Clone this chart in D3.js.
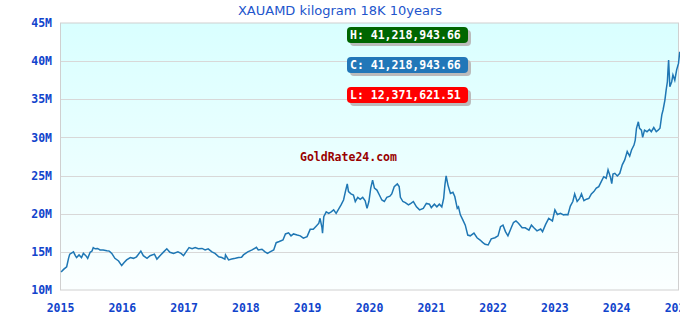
<!DOCTYPE html>
<html>
<head>
<meta charset="utf-8">
<script src="https://cdn.jsdelivr.net/npm/d3@7/dist/d3.min.js"></script>
<style>
	body { margin: 0; background: #fff; }
	svg { display: block; }
</style>
</head>
<body>
<div id="chart"></div>
<script>
// chart texts
const title = "XAUAMD kilogram 18K 10years";
const watermark = "GoldRate24.com";
const yTicks = [10, 15, 20, 25, 30, 35, 40, 45];           // millions AMD
const yTickLabels = ["10M", "15M", "20M", "25M", "30M", "35M", "40M", "45M"];
const xTicks = [2015, 2016, 2017, 2018, 2019, 2020, 2021, 2022, 2023, 2024, 2025];

// summary boxes
const statLabels = ["H", "C", "L"];
const statValues = [41218943.66, 41218943.66, 12371621.51];
const statColors = ["#006600", "#2277b8", "#ff0000"];

// price series (decimal year, millions AMD)
const years = [
	2015.01, 2015.05, 2015.10, 2015.13, 2015.15, 2015.21, 2015.24, 2015.26, 2015.30, 2015.34,
	2015.37, 2015.41, 2015.44, 2015.48, 2015.51, 2015.53, 2015.56, 2015.60, 2015.64, 2015.69,
	2015.75, 2015.79, 2015.83, 2015.88, 2015.94, 2015.99, 2016.03, 2016.07, 2016.13, 2016.18,
	2016.23, 2016.30, 2016.34, 2016.40, 2016.45, 2016.52, 2016.56, 2016.61, 2016.67, 2016.72,
	2016.77, 2016.83, 2016.90, 2016.95, 2016.99, 2017.04, 2017.08, 2017.13, 2017.18, 2017.23,
	2017.29, 2017.34, 2017.39, 2017.45, 2017.50, 2017.56, 2017.61, 2017.66, 2017.67, 2017.72,
	2017.77, 2017.83, 2017.88, 2017.93, 2017.96, 2018.03, 2018.10, 2018.17, 2018.20, 2018.26,
	2018.31, 2018.35, 2018.39, 2018.45, 2018.49, 2018.54, 2018.60, 2018.64, 2018.69, 2018.73,
	2018.77, 2018.83, 2018.88, 2018.93, 2018.99, 2019.04, 2019.09, 2019.14, 2019.18, 2019.20,
	2019.23, 2019.24, 2019.26, 2019.30, 2019.34, 2019.38, 2019.42, 2019.46, 2019.50, 2019.54,
	2019.58, 2019.61, 2019.64, 2019.66, 2019.70, 2019.74, 2019.77, 2019.81, 2019.85, 2019.89,
	2019.93, 2019.96, 2019.99, 2020.02, 2020.05, 2020.08, 2020.12, 2020.16, 2020.20, 2020.24,
	2020.28, 2020.33, 2020.36, 2020.40, 2020.45, 2020.48, 2020.50, 2020.54, 2020.58, 2020.63,
	2020.67, 2020.71, 2020.76, 2020.81, 2020.87, 2020.92, 2020.97, 2021.00, 2021.05, 2021.09,
	2021.13, 2021.17, 2021.20, 2021.22, 2021.24, 2021.27, 2021.31, 2021.35, 2021.38, 2021.42,
	2021.44, 2021.47, 2021.51, 2021.55, 2021.59, 2021.63, 2021.69, 2021.74, 2021.79, 2021.83,
	2021.87, 2021.92, 2021.97, 2022.03, 2022.08, 2022.12, 2022.16, 2022.20, 2022.24, 2022.30,
	2022.33, 2022.37, 2022.41, 2022.47, 2022.52, 2022.58, 2022.62, 2022.66, 2022.71, 2022.77,
	2022.80, 2022.85, 2022.90, 2022.96, 2023.00, 2023.04, 2023.09, 2023.14, 2023.18, 2023.21,
	2023.25, 2023.29, 2023.32, 2023.36, 2023.40, 2023.43, 2023.47, 2023.51, 2023.55, 2023.59,
	2023.63, 2023.67, 2023.71, 2023.75, 2023.79, 2023.83, 2023.86, 2023.90, 2023.92, 2023.94,
	2023.97, 2024.01, 2024.05, 2024.09, 2024.13, 2024.17, 2024.21, 2024.24, 2024.28, 2024.30,
	2024.32, 2024.35, 2024.37, 2024.40, 2024.42, 2024.45, 2024.49, 2024.53, 2024.56, 2024.60,
	2024.64, 2024.67, 2024.70, 2024.73, 2024.75, 2024.78, 2024.80, 2024.82, 2024.83, 2024.84,
	2024.86, 2024.89, 2024.91, 2024.94, 2024.97, 2025.00, 2025.02
];
const values = [
	12.37, 12.70, 13.05, 14.15, 14.70, 15.00, 14.50, 14.25, 14.60, 14.25,
	14.80, 14.50, 14.15, 14.95, 15.10, 15.55, 15.40, 15.45, 15.25, 15.25,
	15.15, 15.10, 14.80, 14.15, 13.80, 13.20, 13.60, 13.95, 14.25, 14.15,
	14.35, 15.10, 14.50, 14.15, 14.50, 14.70, 14.05, 14.50, 15.00, 15.40,
	14.95, 14.80, 15.00, 14.80, 14.50, 15.10, 15.55, 15.40, 15.55, 15.40,
	15.45, 15.25, 15.40, 15.00, 14.80, 14.35, 14.25, 14.05, 14.60, 13.95,
	14.05, 14.15, 14.25, 14.30, 14.60, 15.00, 15.25, 15.60, 15.25, 15.35,
	15.00, 14.80, 15.00, 15.25, 16.20, 16.35, 16.55, 17.35, 17.50, 17.10,
	17.35, 17.20, 17.10, 16.80, 17.00, 17.95, 17.95, 18.40, 18.75, 19.40,
	18.20, 17.45, 19.60, 20.25, 20.05, 20.25, 20.50, 20.05, 20.60, 21.15,
	21.80, 22.90, 23.90, 22.90, 22.60, 22.45, 21.60, 22.15, 21.90, 22.15,
	21.70, 20.70, 21.60, 23.35, 24.40, 23.35, 23.10, 22.45, 21.80, 21.60,
	22.15, 22.30, 22.60, 23.55, 23.90, 23.55, 22.15, 21.60, 21.45, 21.15,
	21.35, 21.60, 20.90, 20.50, 20.70, 21.35, 21.25, 20.80, 21.25, 20.90,
	21.25, 20.90, 22.00, 23.75, 24.95, 23.75, 22.65, 22.80, 22.25, 20.70,
	20.90, 19.85, 19.20, 18.50, 17.20, 17.10, 17.45, 16.85, 16.55, 16.25,
	16.00, 15.90, 16.70, 16.85, 17.10, 18.30, 18.50, 17.65, 17.10, 18.30,
	18.85, 19.05, 18.75, 18.15, 18.15, 17.85, 18.50, 18.15, 17.75, 18.00,
	17.65, 18.60, 19.40, 19.05, 20.50, 19.90, 20.05, 19.85, 19.90, 19.85,
	21.00, 21.60, 22.60, 21.60, 22.00, 22.60, 21.70, 21.90, 22.00, 22.60,
	22.90, 23.35, 23.55, 24.20, 24.85, 24.65, 25.75, 24.75, 23.95, 25.20,
	25.30, 24.95, 25.30, 26.40, 27.05, 28.15, 27.55, 28.35, 29.00, 29.65,
	31.20, 32.05, 31.20, 30.95, 30.00, 30.95, 30.75, 31.05, 30.75, 31.30,
	30.75, 30.95, 31.20, 32.95, 33.60, 34.90, 36.20, 37.30, 38.85, 40.15,
	36.65, 37.30, 38.20, 37.50, 38.85, 39.70, 41.22
];

const width = 680,
	height = 320,
	margin = { top: 23, right: 2, bottom: 30, left: 60 };

const fmtStat = v => d3.format(",.2f")(v);

const svg = d3.select("#chart")
	.append("svg")
	.attr("width", width)
	.attr("height", height);

// background gradient of the plot area
const grad = svg.append("defs").append("linearGradient")
	.attr("id", "bg")
	.attr("x1", 0).attr("y1", 0)
	.attr("x2", 0).attr("y2", 1);
grad.append("stop").attr("offset", "0%").attr("stop-color", "#d9ffff");
grad.append("stop").attr("offset", "100%").attr("stop-color", "#fbffff");

const x = d3.scaleLinear()
	.domain([2015, 2025])
	.range([60.5, 678.5]);

const y = d3.scaleLinear()
	.domain([10, 45])
	.range([height - margin.bottom, margin.top]);

svg.append("rect")
	.attr("x", margin.left + 0.5)
	.attr("y", y(45))
	.attr("width", 618)
	.attr("height", y(10) - y(45))
	.attr("fill", "url(#bg)")
	.attr("stroke", "#d0d0d0")
	.attr("stroke-width", 1);

// horizontal grid
svg.append("g")
	.selectAll("line")
	.data(yTicks.slice(1, -1))
	.enter()
	.append("line")
	.attr("x1", margin.left + 1)
	.attr("x2", 678.5)
	.attr("y1", d => Math.round(y(d)) + 0.5)
	.attr("y2", d => Math.round(y(d)) + 0.5)
	.attr("stroke", "#d8d8d8")
	.attr("stroke-width", 1);

// y labels
svg.append("g")
	.selectAll("text")
	.data(yTicks)
	.enter()
	.append("text")
	.attr("x", 52)
	.attr("y", d => y(d))
	.attr("dy", "0.36em")
	.attr("text-anchor", "end")
	.style("font", "bold 11.5px 'DejaVu Sans Mono', monospace")
	.style("fill", "#1144cc")
	.text((d, i) => yTickLabels[i]);

// x labels
svg.append("g")
	.selectAll("text")
	.data(xTicks)
	.enter()
	.append("text")
	.attr("x", d => x(d))
	.attr("y", 312)
	.attr("text-anchor", "middle")
	.style("font", "bold 11.5px 'DejaVu Sans Mono', monospace")
	.style("fill", "#1144cc")
	.text(d => d);

// title
svg.append("text")
	.attr("x", 340)
	.attr("y", 15)
	.attr("text-anchor", "middle")
	.style("font", "13px 'DejaVu Sans', sans-serif")
	.style("fill", "#2255cc")
	.text(title);

// watermark
svg.append("text")
	.attr("x", 300)
	.attr("y", 161)
	.style("font", "bold 11.5px 'DejaVu Sans Mono', monospace")
	.style("fill", "#990000")
	.text(watermark);

// price line
const line = d3.line()
	.x((d, i) => x(years[i]))
	.y(d => y(d));

svg.append("path")
	.datum(values)
	.attr("fill", "none")
	.attr("stroke", "#1f77b4")
	.attr("stroke-width", 1.5)
	.attr("stroke-linejoin", "miter")
	.attr("d", line);

// H / C / L boxes
const boxes = svg.append("g")
	.selectAll("g")
	.data(statLabels)
	.enter()
	.append("g")
	.attr("transform", (d, i) => "translate(347," + (27 + i * 30) + ")");

boxes.append("rect")
	.attr("x", 3).attr("y", 3)
	.attr("width", 121).attr("height", 16)
	.attr("rx", 4)
	.attr("fill", "#bbbbbb");

boxes.append("rect")
	.attr("width", 121).attr("height", 16)
	.attr("rx", 4)
	.attr("fill", (d, i) => statColors[i]);

boxes.append("text")
	.attr("x", 3)
	.attr("y", 12)
	.style("font", "bold 11.5px 'DejaVu Sans Mono', monospace")
	.style("fill", "#fff")
	.text((d, i) => d + ": " + fmtStat(statValues[i]));
</script>
</body>
</html>
